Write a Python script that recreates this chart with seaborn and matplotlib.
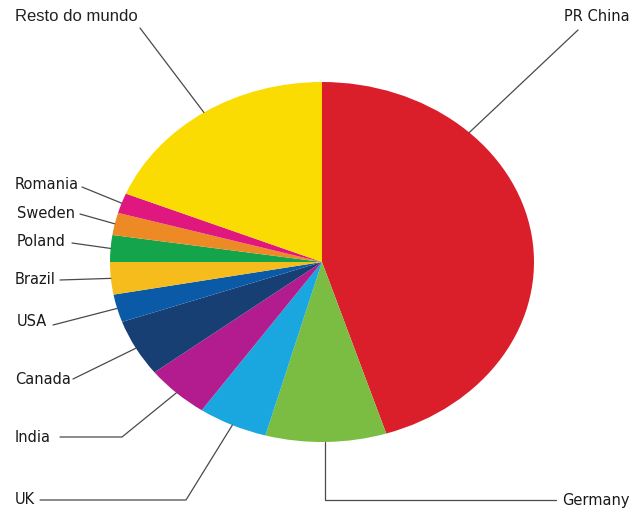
import numpy as np
import matplotlib
matplotlib.use('Agg')
import matplotlib.pyplot as plt
import seaborn as sns

# share of each country (%), clockwise from the top
countries = ['PR China', 'Germany', 'UK', 'India', 'Canada', 'USA',
             'Brazil', 'Poland', 'Sweden', 'Romania', 'Resto do mundo']
shares = [45.1, 9.2, 5.3, 4.9, 5.1, 2.5, 2.9, 2.4, 2.0, 1.8, 18.8]
colours = ['#da1f2b', '#7bbd42', '#1aa6de', '#b21c8f', '#173f74', '#0b5aa8',
           '#f6bc1c', '#14a44b', '#ee8a25', '#e0177f', '#fbdc02']

# label placement in pixels: text anchor, alignment, leader-line elbows
label_layout = {
    'PR China':       ((630, 17), 'right', [(578, 30)]),
    'Germany':        ((630, 500), 'right', [(556, 500), (325, 500)]),
    'UK':             ((15, 500), 'left', [(40, 500), (186, 500)]),
    'India':          ((15, 437), 'left', [(60, 437), (122, 437)]),
    'Canada':         ((15, 380), 'left', [(73, 379)]),
    'USA':            ((17, 322), 'left', [(53, 325)]),
    'Brazil':         ((15, 280), 'left', [(60, 280)]),
    'Poland':         ((17, 242), 'left', [(72, 243)]),
    'Sweden':         ((17, 213), 'left', [(80, 214)]),
    'Romania':        ((15, 185), 'left', [(82, 187)]),
    'Resto do mundo': ((15, 17), 'left', [(140, 28)]),
}

W, H = 632, 512
CX, CY, RX, RY = 322, 262, 212, 180


def px(x, y):
    return (x - CX) / RX, (CY - y) / RY


sns.set_theme(style='white')
plt.rcParams['font.family'] = ['Liberation Sans Narrow', 'DejaVu Sans']

fig = plt.figure(figsize=(W / 100, H / 100), dpi=100)
ax = fig.add_axes([0, 0, 1, 1])

wedges, _ = ax.pie(shares, colors=sns.color_palette(colours), startangle=90,
                   counterclock=False, radius=1, wedgeprops=dict(linewidth=0))
ax.set_aspect('auto')
ax.set_xlim(px(0, 0)[0], px(W, 0)[0])
ax.set_ylim(px(0, H)[1], px(0, 0)[1])
ax.axis('off')

for name, w in zip(countries, wedges):
    (tx, ty), ha, elbows = label_layout[name]
    mid = np.deg2rad((w.theta1 + w.theta2) / 2)
    if name == 'PR China':
        mid = np.deg2rad(46)
    pts = [px(*p) for p in elbows] + [(np.cos(mid), np.sin(mid))]
    if name == 'Germany':
        pts[-1] = (pts[-2][0], pts[-1][1])
    xs, ys = zip(*pts)
    ax.plot(xs, ys, color='#4a4a4a', lw=0.9)
    if name == 'Resto do mundo':
        ax.text(*px(tx, ty), name, ha=ha, va='center', fontsize=12,
                color='#222222', family=['Liberation Sans', 'DejaVu Sans'])
    else:
        ax.text(*px(tx, ty), name, ha=ha, va='center', fontsize=10.5,
                color='#1a1a1a', fontweight='medium')

fig.savefig('out.png', dpi=100)
